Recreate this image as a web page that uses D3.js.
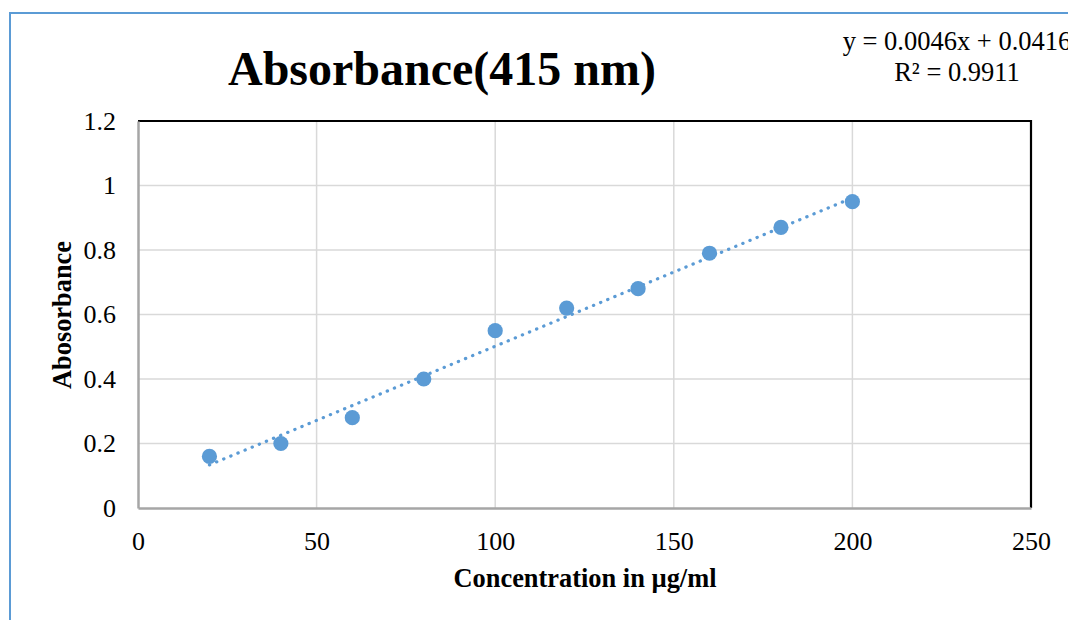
<!DOCTYPE html>
<html>
<head>
<meta charset="utf-8">
<script src="https://cdn.jsdelivr.net/npm/d3@7"></script>
<style>
  html, body { margin: 0; padding: 0; background: #fff; overflow: hidden; }
  svg { display: block; font-family: "Liberation Serif", "Times New Roman", serif; }
</style>
</head>
<body>
<svg id="chart" width="1068" height="620"></svg>
<script>
const concentrations = [20, 40, 60, 80, 100, 120, 140, 160, 180, 200];
const absorbances = [0.16, 0.20, 0.28, 0.40, 0.55, 0.62, 0.68, 0.79, 0.87, 0.95];
const xTicks = [0, 50, 100, 150, 200, 250];
const yTicks = [0, 0.2, 0.4, 0.6, 0.8, 1, 1.2];
const trendSlope = [0.0046];
const trendIntercept = [0.0416];
const titleText = "Absorbance(415 nm)";
const xTitle = "Concentration in µg/ml";
const yTitle = "Abosorbance";
const equationLines = ["y = 0.0046x + 0.0416", "R² = 0.9911"];

(function () {
const svg = d3.select("#chart");
const pL = 138, pR = 1031, pT = 121, pB = 508;

const x = d3.scaleLinear().domain([0, 250]).range([pL, pR]);
const y = d3.scaleLinear().domain([0, 1.2]).range([pB, pT]);

// outer frame
svg.append("rect")
  .attr("x", 10).attr("y", 13).attr("width", 1100).attr("height", 700)
  .attr("fill", "none").attr("stroke", "#5B9BD5").attr("stroke-width", 2);

// gridlines
svg.append("g").selectAll("line").data(yTicks.slice(1)).join("line")
  .attr("x1", pL).attr("x2", pR)
  .attr("y1", d => y(d)).attr("y2", d => y(d))
  .attr("stroke", "#d9d9d9").attr("stroke-width", 1.5);
svg.append("g").selectAll("line").data(xTicks.slice(1)).join("line")
  .attr("x1", d => x(d)).attr("x2", d => x(d))
  .attr("y1", pT).attr("y2", pB)
  .attr("stroke", "#d9d9d9").attr("stroke-width", 1.5);

// plot area border (top/right black)
svg.append("path")
  .attr("d", `M${pL},${pT}H${pR}V${pB}`)
  .attr("fill", "none").attr("stroke", "#000").attr("stroke-width", 2.2);

// axes with d3
const xAxis = d3.axisBottom(x).tickValues(xTicks).tickSize(0).tickPadding(24).tickFormat(d3.format("d"));
const gx = svg.append("g").attr("transform", `translate(0,${pB})`).call(xAxis);
gx.select(".domain").attr("stroke", "#a6a6a6").attr("stroke-width", 2.5);
gx.selectAll("text").attr("font-size", 26).attr("font-family", "Liberation Serif").attr("fill", "#000");

const yAxis = d3.axisLeft(y).tickValues(yTicks).tickSize(0).tickPadding(22).tickFormat(d => String(+d.toFixed(1)));
const gy = svg.append("g").attr("transform", `translate(${pL},0)`).call(yAxis);
gy.select(".domain").attr("stroke", "#a6a6a6").attr("stroke-width", 2.5);
gy.selectAll("text").attr("font-size", 26).attr("font-family", "Liberation Serif").attr("fill", "#000");

// trendline
const x0 = d3.min(concentrations), x1 = d3.max(concentrations);
const trend = [x0, x1].map(v => [v, trendSlope[0] * v + trendIntercept[0]]);
svg.append("path")
  .attr("d", d3.line().x(d => x(d[0])).y(d => y(d[1]))(trend))
  .attr("fill", "none").attr("stroke", "#5B9BD5").attr("stroke-width", 3.2)
  .attr("stroke-linecap", "round").attr("stroke-dasharray", "0.3 7.4");

// points
svg.append("g").selectAll("circle").data(concentrations).join("circle")
  .attr("cx", d => x(d))
  .attr("cy", (d, i) => y(absorbances[i]))
  .attr("r", 7.6)
  .attr("fill", "#5B9BD5");

// title
svg.append("text").attr("x", 442).attr("y", 85).attr("text-anchor", "middle")
  .attr("font-size", 48).attr("font-weight", "bold").text(titleText);

// axis titles
svg.append("text").attr("x", 585).attr("y", 587).attr("text-anchor", "middle")
  .attr("font-size", 26.4).attr("font-weight", "bold").text(xTitle);
svg.append("text").attr("transform", "translate(71,315) rotate(-90)").attr("text-anchor", "middle")
  .attr("font-size", 26.4).attr("font-weight", "bold").text(yTitle);

// equation
svg.append("g").selectAll("text").data(equationLines).join("text")
  .attr("x", 957).attr("y", (d, i) => 50 + i * 31).attr("text-anchor", "middle")
  .attr("font-size", 26.5).text(d => d);
})();
</script>
</body>
</html>
